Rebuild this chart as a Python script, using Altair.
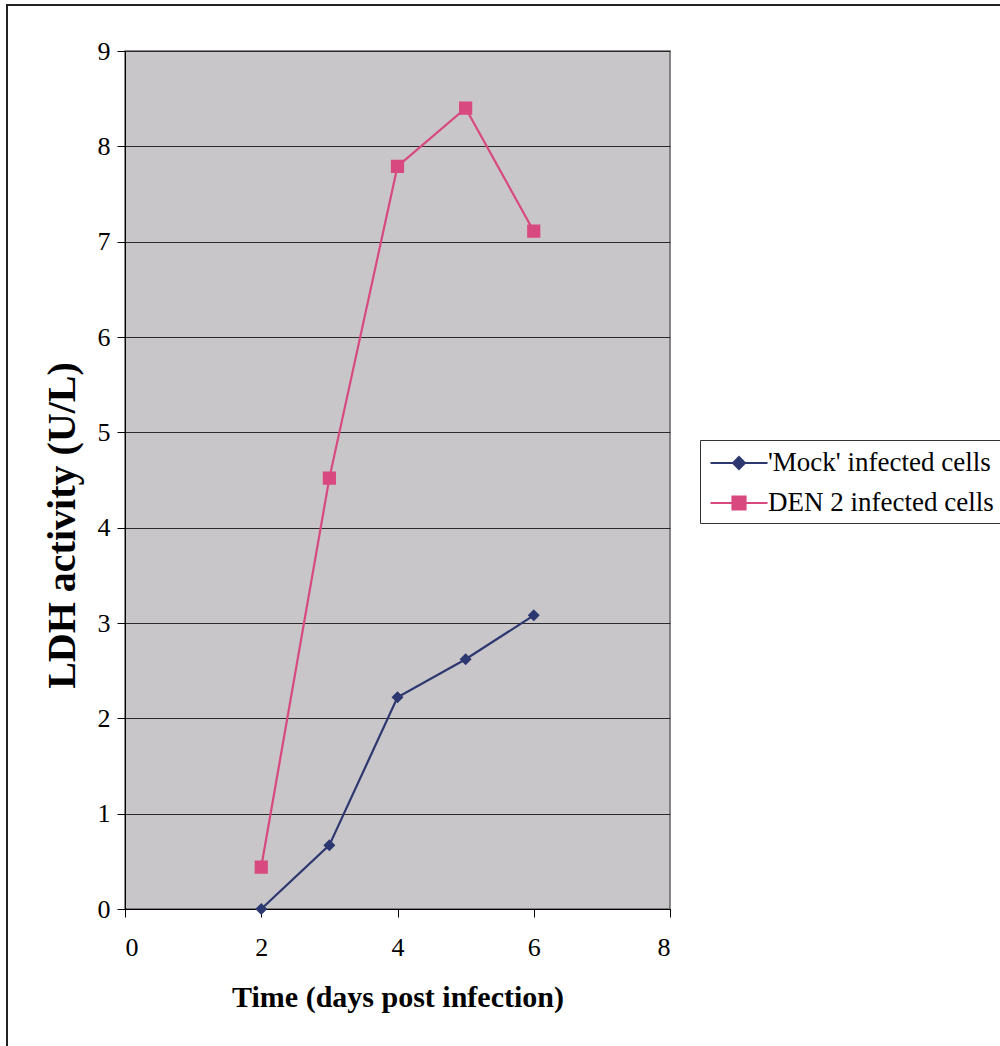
import altair as alt
import pandas as pd

# ---- data ----
days = [2, 3, 4, 5, 6]
mock_ldh = [0.0, 0.67, 2.22, 2.62, 3.08]
den_ldh = [0.44, 4.52, 7.79, 8.40, 7.11]
series_names = ["'Mock' infected cells", "DEN 2 infected cells"]
series_colors = ["#2e3870", "#d8497f"]
x_ticks = [0, 2, 4, 6, 8]
y_ticks = [0, 1, 2, 3, 4, 5, 6, 7, 8, 9]

df = pd.DataFrame({
    "day": days + days,
    "ldh": mock_ldh + den_ldh,
    "series": [series_names[0]] * len(days) + [series_names[1]] * len(days),
})

FONT = "Liberation Serif"
# marker paths with a horizontal stub; the stub is only stroked inside the legend
diamond = "M-1.9,0H1.9M0,-0.4L0.4,0L0,0.4L-0.4,0Z"
square = "M-1.9,0H1.9M-0.44,-0.44H0.44V0.44H-0.44Z"
MSIZE = 900

W, H = 545, 858
PL, PT = 125, 51

x_enc = alt.X("day:Q", scale=alt.Scale(domain=[0, 8], nice=False),
              axis=alt.Axis(values=x_ticks, title="Time (days post infection)", grid=False,
                            format="d", labelFontSize=26, titleFontSize=30, titleFontWeight="bold",
                            titlePadding=22, labelPadding=17, tickSize=8, domainColor="black",
                            tickColor="black"))
y_enc = alt.Y("ldh:Q", scale=alt.Scale(domain=[0, 9], nice=False),
              axis=alt.Axis(values=y_ticks, title="LDH activity (U/L)", grid=True,
                            gridColor="#2a2a2a", gridWidth=1, format="d", labelFontSize=26,
                            titleFontSize=40, titleFontWeight="bold", titlePadding=15,
                            titleY=474, titleAlign="center",
                            labelPadding=7, tickSize=8, domainColor="black", tickColor="black"))

color_scale = alt.Scale(domain=series_names, range=series_colors)
shape_scale = alt.Scale(domain=series_names, range=[diamond, square])

leg = alt.Legend(title=None, orient="none", legendX=575, legendY=389,
                 strokeColor="#333333", fillColor="white", padding=7,
                 labelFont=FONT, labelFontSize=27, labelColor="black", labelLimit=500,
                 symbolSize=MSIZE, symbolStrokeWidth=2, symbolOffset=16,
                 rowPadding=11, labelOffset=13)

lines = alt.Chart(df).mark_line(strokeWidth=2.2).encode(
    x=x_enc, y=y_enc,
    stroke=alt.Stroke("series:N", scale=color_scale, legend=leg),
)

points = alt.Chart(df).mark_point(filled=True, size=MSIZE, opacity=1).encode(
    x="day:Q", y="ldh:Q",
    color=alt.Color("series:N", scale=color_scale, legend=leg),
    shape=alt.Shape("series:N", scale=shape_scale, legend=leg),
    strokeWidth=alt.value(0),
)

frame = alt.Chart(pd.DataFrame({"f": [0]})).mark_rect(
    filled=False, stroke="#222222", strokeWidth=2, clip=False
).encode(
    x=alt.value(7 - PL), x2=alt.value(1010 - PL),
    y=alt.value(5 - PT), y2=alt.value(1060 - PT),
)

chart = alt.layer(frame, lines, points).properties(
    width=W, height=H,
    background="white",
    padding={"left": PL, "top": PT, "right": 1000 - PL - W, "bottom": 1046 - PT - H},
    autosize=alt.AutoSizeParams(type="none"),
).configure_view(
    fill="#c8c6c9", stroke="#666666", strokeWidth=1.5
).configure_axis(
    labelFont=FONT, titleFont=FONT, labelColor="black", titleColor="black"
)

chart.save("out.html", embed_options={"renderer": "svg", "actions": False})
